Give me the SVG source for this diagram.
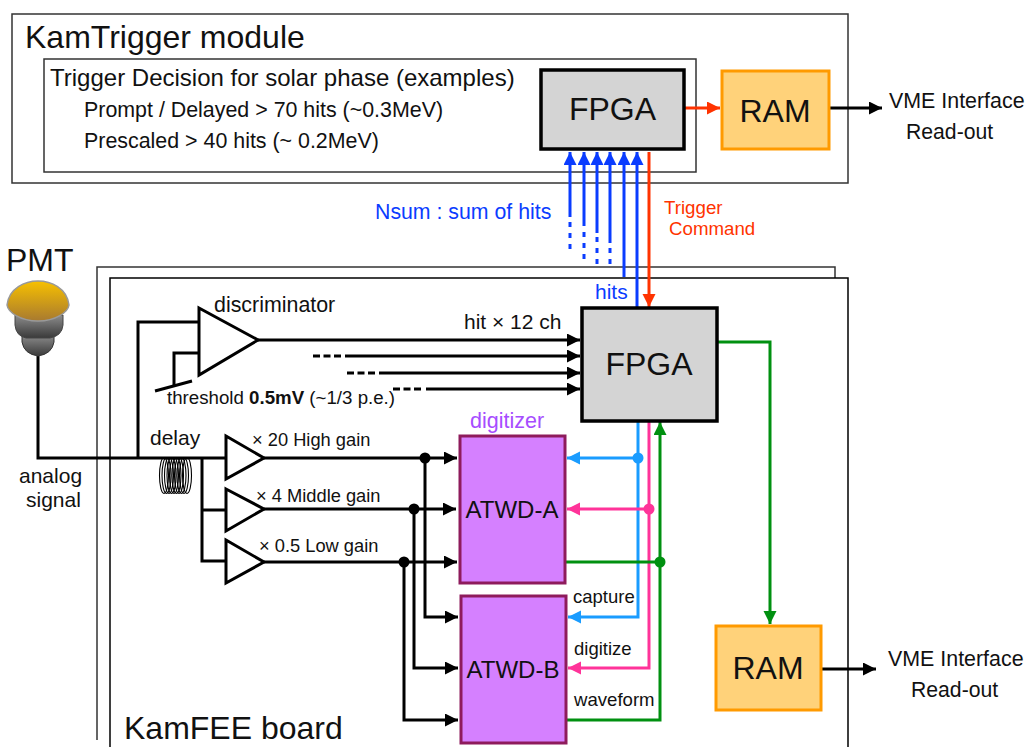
<svg xmlns="http://www.w3.org/2000/svg" width="1026" height="747" viewBox="0 0 1026 747">
<style>
text{font-family:"Liberation Sans",Arial,sans-serif;fill:#111}
.l{fill:none;stroke:#000;stroke-width:3}
.kd{fill:none;stroke:#000;stroke-width:3;stroke-dasharray:7 3.5}
.b{fill:none;stroke:#0a3cff;stroke-width:3}
.bd{fill:none;stroke:#0a3cff;stroke-width:3;stroke-dasharray:5 6}
.amp{fill:#fff;stroke:#000;stroke-width:3}
.atwd{fill:#d580ff;stroke:#8e1b5c;stroke-width:3}
.fpga{fill:#d4d4d4;stroke:#000;stroke-width:3.5}
.ram{fill:#ffd27a;stroke:#ff9a00;stroke-width:3}
.box{fill:#fff;stroke:#333;stroke-width:1.5}
.coil{fill:none;stroke:#000;stroke-width:1.1}
</style>
<defs>
<linearGradient id="cap" x1="0" y1="0" x2="0" y2="1"><stop offset="0" stop-color="#f7c000"/><stop offset="1" stop-color="#a87a30"/></linearGradient>
<linearGradient id="bulb" x1="0" y1="0" x2="0" y2="1"><stop offset="0" stop-color="#8c8c8c"/><stop offset="1" stop-color="#3a3a3a"/></linearGradient>
<marker id="ak" markerUnits="userSpaceOnUse" markerWidth="14" markerHeight="14" refX="13" refY="6.500" orient="auto"><path d="M0 0L13 6.500L0 13z" fill="#000"/></marker>
<marker id="ab" markerUnits="userSpaceOnUse" markerWidth="14" markerHeight="14" refX="13" refY="6.500" orient="auto"><path d="M0 0L13 6.500L0 13z" fill="#0a3cff"/></marker>
<marker id="ar" markerUnits="userSpaceOnUse" markerWidth="14" markerHeight="14" refX="13" refY="6.500" orient="auto"><path d="M0 0L13 6.500L0 13z" fill="#ff3300"/></marker>
<marker id="ag" markerUnits="userSpaceOnUse" markerWidth="14" markerHeight="14" refX="13" refY="6.500" orient="auto"><path d="M0 0L13 6.500L0 13z" fill="#009010"/></marker>
<marker id="ac" markerUnits="userSpaceOnUse" markerWidth="14" markerHeight="14" refX="13" refY="6.500" orient="auto"><path d="M0 0L13 6.500L0 13z" fill="#1a9cff"/></marker>
<marker id="ap" markerUnits="userSpaceOnUse" markerWidth="14" markerHeight="14" refX="13" refY="6.500" orient="auto"><path d="M0 0L13 6.500L0 13z" fill="#ff3399"/></marker>
</defs>
<rect width="1026" height="747" fill="#fff"/>
<g id="kamtrigger">
<rect class="box" x="12" y="14" width="836" height="169"/>
<text x="25" y="48" font-size="32">KamTrigger module</text>
<rect class="box" x="44" y="59" width="652" height="113"/>
<text x="50" y="86" font-size="24">Trigger Decision for solar phase (examples)</text>
<text x="84" y="117" font-size="21.400">Prompt / Delayed &gt; 70 hits (~0.3MeV)</text>
<text x="84" y="148" font-size="21.400">Prescaled &gt; 40 hits (~ 0.2MeV)</text>
</g>
<g id="kamfee-board">
<path d="M97 740V267H835V278" fill="none" stroke="#333" stroke-width="1.500"/>
<path d="M110 747V278H848V747" fill="none" stroke="#000" stroke-width="1.500"/>
<text x="124" y="739" font-size="32">KamFEE board</text>
</g>
<g id="connectors">
<path class="l" d="M38 356V458H226"/>
<path class="l" d="M138 458V322H199"/>
<path class="l" d="M174 385V353H199"/>
<path class="l" d="M155 391L192 381"/>
<path class="l" d="M258 340H580" marker-end="url(#ak)"/>
<path class="kd" d="M313 356H341"/>
<path class="l" d="M345 356H580" marker-end="url(#ak)"/>
<path class="kd" d="M347 373H375"/>
<path class="l" d="M379 373H580" marker-end="url(#ak)"/>
<path class="kd" d="M393 389H422"/>
<path class="l" d="M426 389H580" marker-end="url(#ak)"/>
<path class="l" d="M202 458V561H226M202 510H226"/>
<path class="l" d="M264 458H457" marker-end="url(#ak)"/>
<path class="l" d="M264 509H456" marker-end="url(#ak)"/>
<path class="l" d="M264 562H457" marker-end="url(#ak)"/>
<path class="l" d="M425 458V617H458" marker-end="url(#ak)"/>
<path class="l" d="M414 509V668H458" marker-end="url(#ak)"/>
<path class="l" d="M404 562V720H458" marker-end="url(#ak)"/>
<circle cx="425" cy="458" r="5.500"/><circle cx="414" cy="509" r="5.500"/><circle cx="404" cy="562" r="5.500"/>
<path class="b" d="M570 217V152" marker-end="url(#ab)"/>
<path class="bd" d="M570 222V249"/>
<path class="b" d="M584 226V152" marker-end="url(#ab)"/>
<path class="bd" d="M584 232V259"/>
<path class="b" d="M597 233V152" marker-end="url(#ab)"/>
<path class="bd" d="M597 237V264"/>
<path class="b" d="M610 243V152" marker-end="url(#ab)"/>
<path class="bd" d="M610 248V267"/>
<path class="b" d="M624 277V152" marker-end="url(#ab)"/>
<path class="b" d="M637 307V152" marker-end="url(#ab)"/>
<path d="M649 152V307" fill="none" stroke="#ff3300" stroke-width="3" marker-end="url(#ar)"/>
<path d="M685 108H720" fill="none" stroke="#ff3300" stroke-width="3" marker-end="url(#ar)"/>
<path class="l" d="M829 108H882" marker-end="url(#ak)"/>
<path d="M718 342H770V624" fill="none" stroke="#009010" stroke-width="3" marker-end="url(#ag)"/>
<path class="l" d="M822 669H876" marker-end="url(#ak)"/>
<path d="M638 421V617H568" fill="none" stroke="#1a9cff" stroke-width="3" marker-end="url(#ac)"/>
<path d="M638 458H567" fill="none" stroke="#1a9cff" stroke-width="3" marker-end="url(#ac)"/>
<circle cx="638" cy="458" r="5.500" fill="#1a9cff"/>
<path d="M649 421V668H568" fill="none" stroke="#ff3399" stroke-width="3" marker-end="url(#ap)"/>
<path d="M649 509H567" fill="none" stroke="#ff3399" stroke-width="3" marker-end="url(#ap)"/>
<circle cx="649" cy="509" r="5.500" fill="#ff3399"/>
<path d="M567 720H660V422" fill="none" stroke="#009010" stroke-width="3" marker-end="url(#ag)"/>
<path d="M566 562H660" fill="none" stroke="#009010" stroke-width="3"/>
<circle cx="660" cy="562" r="5.500" fill="#009010"/>
</g>
<g id="pmt">
<text x="6" y="271" font-size="32">PMT</text>
<path d="M22 335H54V342Q52 354 38 356Q24 354 22 342Z" fill="url(#bulb)" stroke="#333"/>
<path d="M15 315H63V325Q62 336 50 338H26Q16 336 15 325Z" fill="url(#bulb)" stroke="#444"/>
<path d="M7 305C9 288 25 281 38 281S67 288 69 305C68 312 56 321 38 321S8 312 7 305Z" fill="url(#cap)" stroke="#999" stroke-width="1.500"/>
</g>
<g id="delay-coil" class="coil">
<ellipse cx="164" cy="475.500" rx="4.500" ry="18"/><ellipse cx="166.500" cy="475.500" rx="4.500" ry="18"/><ellipse cx="169" cy="475.500" rx="4.500" ry="18"/><ellipse cx="171.500" cy="475.500" rx="4.500" ry="18"/><ellipse cx="174" cy="475.500" rx="4.500" ry="18"/><ellipse cx="176.500" cy="475.500" rx="4.500" ry="18"/><ellipse cx="179" cy="475.500" rx="4.500" ry="18"/><ellipse cx="181.500" cy="475.500" rx="4.500" ry="18"/><ellipse cx="184" cy="475.500" rx="4.500" ry="18"/><ellipse cx="187" cy="475.500" rx="4.500" ry="18"/>
</g>
<g id="discriminator">
<path class="amp" d="M199 308L258 340L199 375Z"/>
<text x="214" y="312" font-size="21.400">discriminator</text>
</g>
<g id="amp-high"><path class="amp" d="M226 436L264 458L226 479Z"/><text x="252" y="446" font-size="18.300">× 20 High gain</text></g>
<g id="amp-middle"><path class="amp" d="M226 489L264 509L226 531Z"/><text x="256" y="502" font-size="18.300">× 4 Middle gain</text></g>
<g id="amp-low"><path class="amp" d="M226 540L264 562L226 583Z"/><text x="259" y="552" font-size="18.300">× 0.5 Low gain</text></g>
<g id="fpga-top"><rect class="fpga" x="541" y="70" width="143" height="79"/><text x="612.500" y="120" font-size="32" text-anchor="middle">FPGA</text></g>
<g id="ram-top"><rect class="ram" x="722" y="71" width="107" height="78"/><text x="775" y="122" font-size="32" text-anchor="middle">RAM</text></g>
<g id="fpga-bottom"><rect class="fpga" x="582" y="308" width="135" height="113"/><text x="649" y="375" font-size="32" text-anchor="middle">FPGA</text></g>
<g id="ram-bottom"><rect class="ram" x="716" y="626" width="105" height="84"/><text x="768" y="679" font-size="32" text-anchor="middle">RAM</text></g>
<g id="atwd-a"><rect class="atwd" x="460" y="436" width="105" height="147"/><text x="512" y="518" font-size="24" text-anchor="middle">ATWD-A</text></g>
<g id="atwd-b"><rect class="atwd" x="461" y="596" width="105" height="147"/><text x="513" y="678" font-size="24" text-anchor="middle">ATWD-B</text></g>
<g id="labels">
<text x="889" y="108" font-size="21.400">VME Interface</text>
<text x="906" y="139" font-size="21.200">Read-out</text>
<text x="888" y="666" font-size="21.400">VME Interface</text>
<text x="911" y="697" font-size="21.200">Read-out</text>
<text x="375" y="219" font-size="21.300" style="fill:#0a3cff">Nsum : sum of hits</text>
<text x="664" y="214" font-size="18.700" style="fill:#ff3300">Trigger</text>
<text x="669" y="235" font-size="18.700" style="fill:#ff3300">Command</text>
<text x="595" y="299" font-size="21" style="fill:#0a3cff">hits</text>
<text x="464" y="329" font-size="21">hit × 12 ch</text>
<text x="167" y="404" font-size="18.700">threshold <tspan font-weight="bold">0.5mV</tspan> (~1/3 p.e.)</text>
<text x="150" y="445" font-size="21">delay</text>
<text x="19" y="483" font-size="21">analog</text>
<text x="26" y="507" font-size="21">signal</text>
<text x="470" y="428" font-size="21.500" style="fill:#a64dff">digitizer</text>
<text x="573" y="603" font-size="18.500">capture</text>
<text x="574" y="655" font-size="18.500">digitize</text>
<text x="574" y="706" font-size="18.600">waveform</text>
</g>
</svg>
